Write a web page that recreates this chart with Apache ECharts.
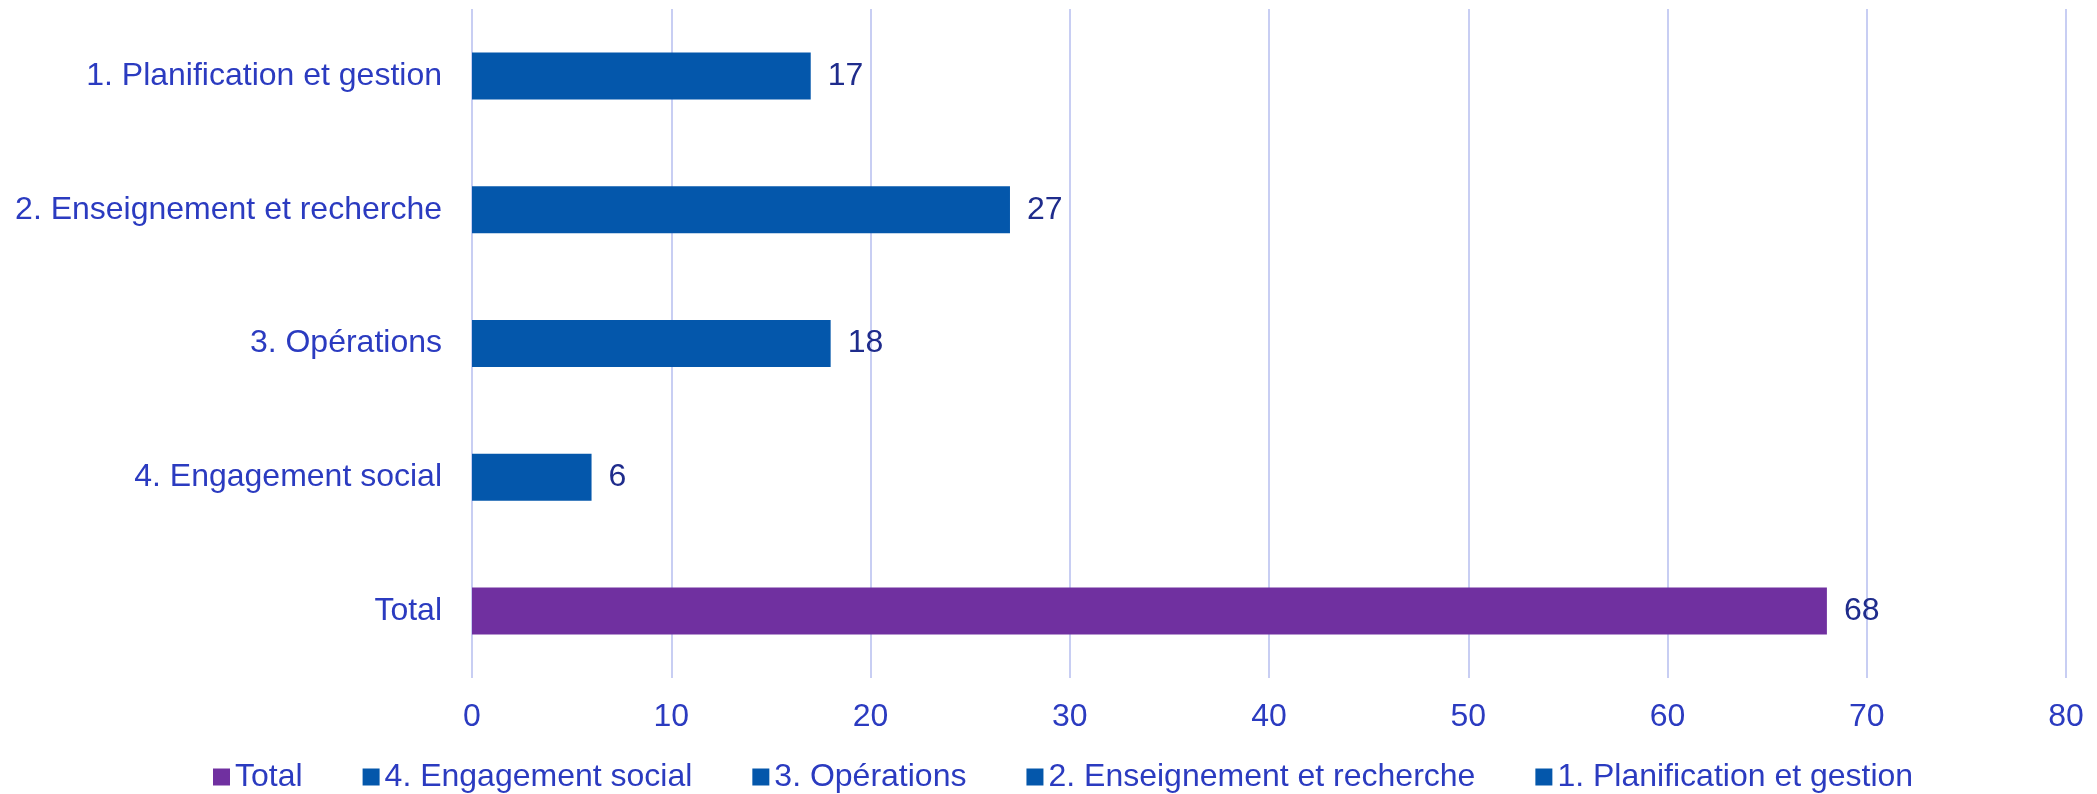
<!DOCTYPE html>
<html>
<head>
<meta charset="utf-8">
<script src="https://cdn.jsdelivr.net/npm/echarts@6/dist/echarts.min.js"></script>
<style>
    html, body { margin: 0; padding: 0; background: #fff; }
    #axesChart { width: 2097px; height: 794px; }
</style>
</head>
<body>
<div id="axesChart"></div>
<script>
    // catégories de bas en haut (l'axe y part du bas)
    const categories = ['Total', '4. Engagement social', '3. Opérations', '2. Enseignement et recherche', '1. Planification et gestion']
    const values = [68, 6, 18, 27, 17]
    const colors = ['#7030A0', '#0457AB', '#0457AB', '#0457AB', '#0457AB']
    const xTicks = { min: 0, max: 80, interval: 10 }

    const fontFamily = '"Liberation Sans", Arial, sans-serif'
    const axisBlue = '#2B3BC0'
    const labelNavy = '#1F2C8C'

    // une série par catégorie pour avoir une entrée de légende chacune
    const series = categories.map((name, i) => ({
        name: name,
        type: 'bar',
        stack: 'all',
        barWidth: 47,
        itemStyle: { color: colors[i] },
        label: {
            show: true,
            position: 'right',
            distance: 17,
            color: labelNavy,
            fontSize: 32,
            fontFamily: fontFamily
        },
        data: categories.map((c, j) => (j === i ? values[i] : '-'))
    }))

    const option = {
        animation: false,
        grid: {
            left: 472,
            right: 31,
            top: 9,
            bottom: 116
        },
        legend: {
            data: categories,
            top: 756,
            left: 208,
            itemWidth: 17,
            itemHeight: 17,
            itemGap: 60,
            icon: 'rect',
            textStyle: {
                color: axisBlue,
                fontSize: 32,
                fontFamily: fontFamily
            }
        },
        xAxis: {
            type: 'value',
            min: xTicks.min,
            max: xTicks.max,
            interval: xTicks.interval,
            axisLine: { show: false },
            axisTick: { show: false },
            axisLabel: {
                color: axisBlue,
                fontSize: 32,
                fontFamily: fontFamily,
                margin: 23
            },
            splitLine: {
                show: true,
                lineStyle: { color: '#C8CEF3', width: 2 }
            }
        },
        yAxis: {
            type: 'category',
            data: categories,
            axisLine: { show: false },
            axisTick: { show: false },
            axisLabel: {
                color: axisBlue,
                fontSize: 32,
                fontFamily: fontFamily,
                margin: 30
            }
        },
        series: series
    }

    const chart = echarts.init(document.getElementById('axesChart'))
    chart.setOption(option)
    window.addEventListener('resize', () => chart.resize())
</script>
</body>
</html>
